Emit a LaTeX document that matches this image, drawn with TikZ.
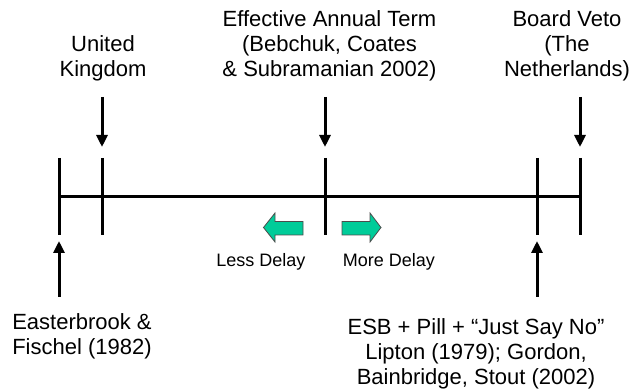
\documentclass[tikz,border=0pt]{standalone}
\usepackage{fontspec}
\setmainfont{Liberation Sans}
\usetikzlibrary{arrows.meta}

\definecolor{delaygreen}{RGB}{0,204,153}

\tikzset{
  label/.style={align=center, inner sep=0pt, font=\fontsize{11}{12.6}\selectfont},
  small/.style={inner sep=0pt, font=\fontsize{9}{11}\selectfont},
  tick/.style={line width=1.5pt},
  pointer/.style={line width=1.5pt, -{Triangle[width=5.5pt,length=6pt]}},
  blockarrow/.style={fill=delaygreen, draw=black!70, line width=0.4pt}
}

\begin{document}
\begin{tikzpicture}[x=0.5pt, y=-0.5pt]

  \useasboundingbox (0,0) rectangle (633,389);

  % Timeline
  \draw[tick] (59,197) -- (580,197);
  \foreach \x in {59,102,325,537,580}
    \draw[tick] (\x,158) -- (\x,235);

  % Labels above (anchored at the last line)
  \node[label, anchor=base] (uk) at (103,77) {United\\Kingdom};
  \node[label, anchor=base] (eat) at (329.5,77) {Effective Annual Term\\(Bebchuk, Coates\\\& Subramanian 2002)};
  \node[label, anchor=base] (veto) at (567,77) {Board Veto\\(The\\Netherlands)};

  % Labels below
  \node[label, anchor=base] (ef) at (82,355) {Easterbrook \&\\Fischel (1982)};
  \node[label, anchor=base] (esb) at (476,385) {ESB + Pill + “Just Say No”\\Lipton (1979); Gordon,\\Bainbridge, Stout (2002)};

  % Arrow ends
  \coordinate (uk top) at (102,97);   \coordinate (uk tip) at (102,147);
  \coordinate (eat top) at (325,97);  \coordinate (eat tip) at (325,147);
  \coordinate (veto top) at (580,97); \coordinate (veto tip) at (580,147);
  \coordinate (ef low) at (59,297);   \coordinate (ef tip) at (59,241);
  \coordinate (esb low) at (537,297); \coordinate (esb tip) at (537,241);

  \draw[pointer] (uk top) -- (uk tip);
  \draw[pointer] (eat top) -- (eat tip);
  \draw[pointer] (veto top) -- (veto tip);
  \draw[pointer] (ef low) -- (ef tip);
  \draw[pointer] (esb low) -- (esb tip);

  % Direction arrows
  \draw[blockarrow] (263.5,227.5) -- (275,213) -- (275,221.5) -- (303,221.5)
    -- (303,235) -- (275,235) -- (275,242) -- cycle;
  \draw[blockarrow] (381,227.5) -- (370,213) -- (370,221.5) -- (342,221.5)
    -- (342,235) -- (370,235) -- (370,242) -- cycle;

  \node[small, anchor=base] (less) at (261,267) {Less Delay};
  \node[small, anchor=base] (more) at (389,267) {More Delay};

\end{tikzpicture}
\end{document}
